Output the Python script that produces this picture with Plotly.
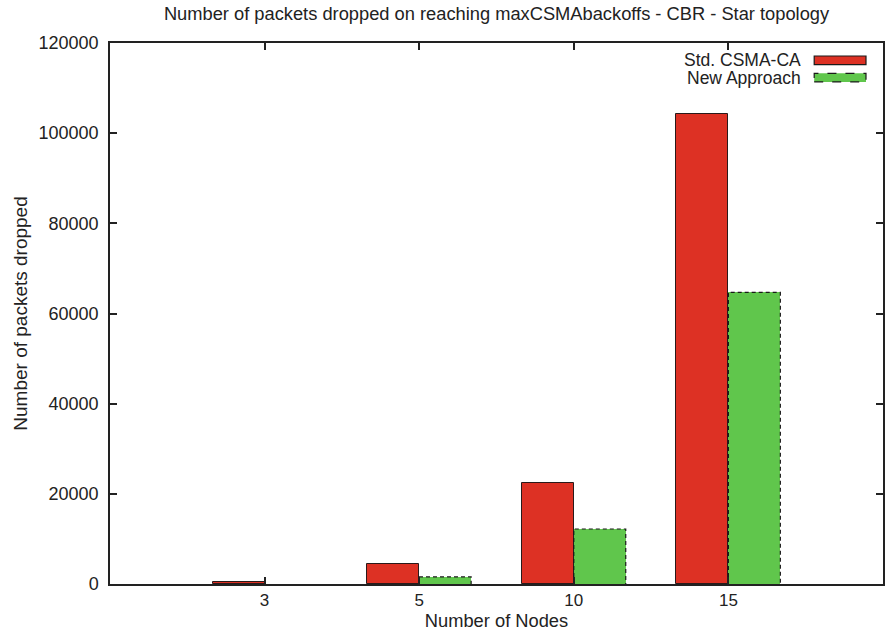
import plotly.graph_objects as go

# Data
nodes = ["3", "5", "10", "15"]
std_csma = [400, 4400, 22500, 104200]
new_approach = [0, 1600, 12200, 64700]

series_names = ["Std. CSMA-CA", "New Approach"]
red = "#dd3124"
green = "#60c64c"

bar_w = 0.336
pos = list(range(len(nodes)))

fig = go.Figure()

fig.add_trace(go.Bar(
    x=pos, y=std_csma, width=bar_w, offset=-bar_w,
    marker=dict(color=red, line=dict(color="#2a1a1a", width=1)),
    name=series_names[0], showlegend=False,
))
fig.add_trace(go.Bar(
    x=pos, y=new_approach, width=bar_w, offset=0,
    marker=dict(color=green, line=dict(width=0)),
    name=series_names[1], showlegend=False,
))

# dashed outline for the second series (bar marker lines cannot be dashed)
ox, oy = [], []
for p, v in zip(pos, new_approach):
    if v <= 0:
        continue
    ox += [p, p, p + bar_w, p + bar_w, None]
    oy += [0, v, v, 0, None]
fig.add_trace(go.Scatter(
    x=ox, y=oy, mode="lines", hoverinfo="skip", showlegend=False,
    line=dict(color="#1a1a1a", width=1.2, dash="4px,3px"),
))

family = "Liberation Sans, Arial, Helvetica, sans-serif"
ink = "#222222"
font = dict(family=family, size=16, color=ink)

# legend drawn in gnuplot style: label on the left, sample box on the right
legend_rows = [(series_names[0], red, 0.968, "solid"), (series_names[1], green, 0.936, "dash")]
for label, col, yc, dash in legend_rows:
    fig.add_annotation(
        xref="paper", yref="paper", x=0.897, y=yc, text=label, showarrow=False,
        xanchor="right", yanchor="middle", font=dict(family=family, size=17.5, color=ink),
    )
    fig.add_shape(
        type="rect", xref="paper", yref="paper",
        x0=0.911, x1=0.978, y0=yc - 0.008, y1=yc + 0.008,
        fillcolor=col, line=dict(color="#1a1a1a", width=1.2, dash=dash),
    )

fig.update_layout(
    width=889, height=637,
    margin=dict(l=110, r=4, t=43, b=53),
    paper_bgcolor="white", plot_bgcolor="white",
    font=font,
    title=dict(
        text="Number of packets dropped on reaching maxCSMAbackoffs - CBR - Star topology",
        xref="paper", x=0.5, xanchor="center", y=1 - 14 / 637, yanchor="middle",
        font=dict(size=18.3, family=family, color=ink),
    ),
    bargap=0, barmode="overlay",
)

fig.update_xaxes(
    range=[-1, 4], tickvals=pos, ticktext=nodes,
    showline=True, linecolor=ink, linewidth=1.5, mirror="ticks",
    ticks="inside", ticklen=7, tickcolor=ink, tickwidth=1.5,
    showgrid=False, zeroline=False, tickfont=dict(size=17, family=family, color=ink),
    title=dict(text="Number of Nodes", standoff=3, font=dict(size=18.3, family=family, color=ink)),
)
fig.update_yaxes(
    range=[0, 120000], dtick=20000, tickformat="d",
    showline=True, linecolor=ink, linewidth=1.5, mirror="ticks",
    ticks="inside", ticklen=7, tickcolor=ink, tickwidth=1.5,
    showgrid=False, zeroline=False, tickfont=dict(size=18, family=family, color=ink),
    ticklabelstandoff=6,
    title=dict(text="Number of packets dropped", standoff=6, font=dict(size=19, family=family, color=ink)),
)

fig.write_html("out.html")
